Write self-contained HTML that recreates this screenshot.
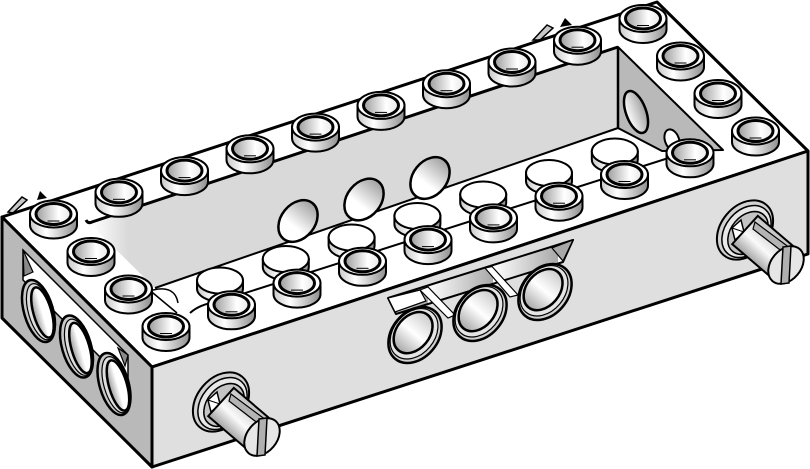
<!DOCTYPE html>
<html>
<head>
<meta charset="utf-8">
<style>
  html, body { margin: 0; padding: 0; background: #fff; }
  svg { display: block; }
</style>
</head>
<body>
<svg width="810" height="469" viewBox="0 0 810 469" xmlns="http://www.w3.org/2000/svg" xmlns:xlink="http://www.w3.org/1999/xlink">
<defs>
  <linearGradient id="side" x1="0" y1="0" x2="1" y2="0">
    <stop offset="0" stop-color="#c8c8c8"/>
    <stop offset=".35" stop-color="#ffffff"/>
    <stop offset="1" stop-color="#8e8e8e"/>
  </linearGradient>
  <linearGradient id="hole" x1="0" y1="0" x2="1" y2="0">
    <stop offset="0" stop-color="#9c9c9c"/>
    <stop offset=".65" stop-color="#ffffff"/>
    <stop offset="1" stop-color="#e8e8e8"/>
  </linearGradient>
  <linearGradient id="wh" x1="0" y1="0" x2="1" y2="0">
    <stop offset="0" stop-color="#ffffff"/>
    <stop offset=".35" stop-color="#ffffff"/>
    <stop offset="1" stop-color="#a0a0a0"/>
  </linearGradient>
  <linearGradient id="fh" x1="0" y1="0" x2="1" y2="0">
    <stop offset="0" stop-color="#a8a8a8"/>
    <stop offset=".5" stop-color="#ffffff"/>
    <stop offset="1" stop-color="#cccccc"/>
  </linearGradient>
  <linearGradient id="lh" x1="0" y1="0" x2="0" y2="1">
    <stop offset="0" stop-color="#ffffff"/>
    <stop offset=".5" stop-color="#ffffff"/>
    <stop offset="1" stop-color="#9a9a9a"/>
  </linearGradient>
  <linearGradient id="dh" x1="0" y1="0" x2="0" y2="1">
    <stop offset="0" stop-color="#a0a0a0"/>
    <stop offset="1" stop-color="#ffffff"/>
  </linearGradient>
  <linearGradient id="wall" gradientUnits="userSpaceOnUse" x1="92" y1="0" x2="128" y2="0">
    <stop offset="0" stop-color="#ffffff"/>
    <stop offset="1" stop-color="#d9d9d9"/>
  </linearGradient>
  <linearGradient id="shaft" gradientUnits="userSpaceOnUse" x1="-13" y1="14" x2="13" y2="-14">
    <stop offset="0" stop-color="#a0a0a0"/>
    <stop offset=".45" stop-color="#fafafa"/>
    <stop offset="1" stop-color="#c4c4c4"/>
  </linearGradient>
  <linearGradient id="band" gradientUnits="userSpaceOnUse" x1="428" y1="0" x2="493" y2="0" spreadMethod="repeat">
    <stop offset="0" stop-color="#ffffff"/>
    <stop offset="1" stop-color="#a8a8a8"/>
  </linearGradient>

  <g id="stud">
    <path d="M-23.5,0 V11 A23.5,13.5 0 0 0 23.5,11 V0 Z" fill="url(#side)" stroke="#000" stroke-width="2"/>
    <ellipse rx="23.5" ry="13.5" fill="#fff" stroke="#000" stroke-width="2"/>
    <ellipse rx="17.5" ry="10.5" fill="url(#hole)" stroke="#000" stroke-width="3"/>
    <path d="M-6,7 H6" stroke="#000" stroke-width="1"/>
  </g>

  <g id="bump">
    <path d="M-23,0 V8 A23,13 0 0 0 23,8 V0 Z" fill="url(#side)" stroke="#000" stroke-width="2"/>
    <ellipse rx="23" ry="13" fill="#fff" stroke="#000" stroke-width="2"/>
  </g>

  <g id="pin">
    <ellipse rx="33" ry="24" transform="rotate(-50)" fill="#d2d2d2" stroke="#000" stroke-width="2"/>
    <ellipse cx="1.5" cy="1.5" rx="29" ry="21" transform="rotate(-50 1.5 1.5)" fill="#e8e8e8" stroke="#000" stroke-width="1.5"/>
    <ellipse cx="3" cy="3" rx="24" ry="17" transform="rotate(-50 3 3)" fill="#c4c4c4" stroke="#000" stroke-width="1.5"/>
    <polygon points="-13,-2 -4,-10 -1,2 -10,10" fill="#fff" stroke="#000" stroke-width="1.5"/>
    <path d="M-13,-2 L-1,2" stroke="#000" stroke-width="1"/>
    <polygon points="12.8,-14.1 53.8,20.9 28.2,49.1 -12.8,14.1" fill="url(#shaft)" stroke="#000" stroke-width="2"/>
    <polygon points="10,-8 45,18 43,26 8,-1" fill="#b4b4b4" stroke="#000" stroke-width="1.2"/>
    <ellipse cx="41" cy="35" rx="21" ry="15" transform="rotate(-50 41 35)" fill="#e6e6e6" stroke="#000" stroke-width="2"/>
    <path d="M38,17 L46,16 L44,53 L36,54 Z" fill="#b0b0b0" stroke="#000" stroke-width="1.5"/>
  </g>
</defs>

<rect width="810" height="469" fill="#fff"/>

<!-- back pin tips -->
<polygon points="8,212 22,197 27,200 13,213" fill="#c8c8c8" stroke="#000" stroke-width="1.5"/>
<polygon points="37,200 40,191 47,198" fill="#000"/>
<polygon points="533,40 547,25 553,28 540,40" fill="#c8c8c8" stroke="#000" stroke-width="1.5"/>
<polygon points="560,27 565,18 572,25" fill="#000"/>

<!-- top face -->
<polygon points="2,217 657,2 808,151 152,367" fill="#fff" stroke="#000" stroke-width="3" stroke-linejoin="round"/>
<!-- left face -->
<polygon points="2,217 152,367 152,467 2,318" fill="#b9b9b9" stroke="#000" stroke-width="3" stroke-linejoin="round"/>
<!-- front face -->
<polygon points="152,367 808,151 808,254 152,467" fill="#dfdfdf" stroke="#000" stroke-width="3" stroke-linejoin="round"/>

<!-- inner channel wall -->
<polygon points="88,222 618,47 618,128 155,288" fill="url(#wall)"/>
<path d="M86,220 Q88,224 92,222 L618,47" fill="none" stroke="#000" stroke-width="3"/>
<path d="M155,288 L618,128" fill="none" stroke="#000" stroke-width="2"/>
<!-- right inner end wall -->
<polygon points="618,47 723,150 662,151 618,128" fill="#b9b9b9" stroke="#000" stroke-width="2" stroke-linejoin="round"/>
<path d="M618,47 L618,128" stroke="#000" stroke-width="2.5"/>

<!-- wall holes -->
<ellipse cx="298" cy="221" rx="23" ry="17" transform="rotate(-51 298 221)" fill="url(#wh)" stroke="#000" stroke-width="2.5"/>
<ellipse cx="364" cy="199.5" rx="23" ry="17" transform="rotate(-51 364 199.5)" fill="url(#wh)" stroke="#000" stroke-width="2.5"/>
<ellipse cx="430" cy="178" rx="23" ry="17" transform="rotate(-51 430 178)" fill="url(#wh)" stroke="#000" stroke-width="2.5"/>
<ellipse cx="636" cy="112" rx="22" ry="10" transform="rotate(70 636 112)" fill="url(#dh)" stroke="#000" stroke-width="2.5"/>
<ellipse cx="672" cy="140" rx="11" ry="7" transform="rotate(70 672 140)" fill="#fff" stroke="#000" stroke-width="2"/>

<!-- lower floor lines -->
<path d="M147,288 L177,313" stroke="#000" stroke-width="1.5"/>
<path d="M153,290 Q175,285 178,303" fill="none" stroke="#000" stroke-width="1.5"/>
<path d="M190,313 Q200,304 217,302 L700,148" fill="none" stroke="#000" stroke-width="2"/>

<!-- bumps -->
<use xlink:href="#bump" href="#bump" transform="translate(220,280.5)"/>
<use xlink:href="#bump" href="#bump" transform="translate(285.8,259)"/>
<use xlink:href="#bump" href="#bump" transform="translate(351.6,237.5)"/>
<use xlink:href="#bump" href="#bump" transform="translate(417.4,216)"/>
<use xlink:href="#bump" href="#bump" transform="translate(483.2,194.5)"/>
<use xlink:href="#bump" href="#bump" transform="translate(549,173)"/>
<use xlink:href="#bump" href="#bump" transform="translate(614.8,151.5)"/>

<!-- left face slot band -->
<polygon points="23,250 128,355 128,385 23,280" fill="#fff" stroke="#000" stroke-width="1.5"/>
<polygon points="23,250 33,272 24,276" fill="#8a8a8a" stroke="#000" stroke-width="1.2"/>
<polygon points="118,348 128,355 125,366" fill="#8a8a8a" stroke="#000" stroke-width="1.2"/>
<!-- left face holes -->
<g transform="translate(38.5,311) rotate(74)">
  <ellipse rx="32" ry="14.5" fill="#c8c8c8" stroke="#000" stroke-width="2.5"/>
  <ellipse cx="1.2" cy="-1.7" rx="29" ry="12" fill="#dedede" stroke="#000" stroke-width="1.2"/>
  <ellipse cx="2.5" cy="-3.4" rx="26" ry="9" fill="url(#lh)" stroke="#000" stroke-width="2.5"/>
</g>
<g transform="translate(76.5,346.5) rotate(74)">
  <ellipse rx="32" ry="14.5" fill="#c8c8c8" stroke="#000" stroke-width="2.5"/>
  <ellipse cx="1.2" cy="-1.7" rx="29" ry="12" fill="#dedede" stroke="#000" stroke-width="1.2"/>
  <ellipse cx="2.5" cy="-3.4" rx="26" ry="9" fill="url(#lh)" stroke="#000" stroke-width="2.5"/>
</g>
<g transform="translate(114,384) rotate(74)">
  <ellipse rx="32" ry="14.5" fill="#c8c8c8" stroke="#000" stroke-width="2.5"/>
  <ellipse cx="1.2" cy="-1.7" rx="29" ry="12" fill="#dedede" stroke="#000" stroke-width="1.2"/>
  <ellipse cx="2.5" cy="-3.4" rx="26" ry="9" fill="url(#lh)" stroke="#000" stroke-width="2.5"/>
</g>

<!-- front face slot band -->
<polygon points="388,298 573,240 563,262 396,314" fill="url(#band)" stroke="#000" stroke-width="2" stroke-linejoin="round"/>
<polygon points="388,298 420,290 426,301 395,312" fill="#fff" stroke="#000" stroke-width="1.2"/>
<polygon points="420,290 428,287 455,315 448,318" fill="#fff" stroke="#000" stroke-width="1.2"/>
<polygon points="485,268 492,266.5 518,295 510,297" fill="#fff" stroke="#000" stroke-width="1.2"/>
<polygon points="552,248 573,240 563,261" fill="#a8a8a8" stroke="#000" stroke-width="1.2"/>
<!-- front face holes -->
<g transform="translate(415,335) rotate(-50)">
  <ellipse rx="31" ry="23" fill="#d0d0d0" stroke="#000" stroke-width="2.5"/>
  <ellipse cx="0.3" cy="-1.5" rx="28" ry="20.5" fill="#e4e4e4" stroke="#000" stroke-width="1.2"/>
  <ellipse cx="0.6" cy="-3" rx="23" ry="16.5" fill="url(#fh)" stroke="#000" stroke-width="2.5"/>
</g>
<g transform="translate(480,313) rotate(-50)">
  <ellipse rx="31" ry="23" fill="#d0d0d0" stroke="#000" stroke-width="2.5"/>
  <ellipse cx="0.3" cy="-1.5" rx="28" ry="20.5" fill="#e4e4e4" stroke="#000" stroke-width="1.2"/>
  <ellipse cx="0.6" cy="-3" rx="23" ry="16.5" fill="url(#fh)" stroke="#000" stroke-width="2.5"/>
</g>
<g transform="translate(545,292) rotate(-50)">
  <ellipse rx="31" ry="23" fill="#d0d0d0" stroke="#000" stroke-width="2.5"/>
  <ellipse cx="0.3" cy="-1.5" rx="28" ry="20.5" fill="#e4e4e4" stroke="#000" stroke-width="1.2"/>
  <ellipse cx="0.6" cy="-3" rx="23" ry="16.5" fill="url(#fh)" stroke="#000" stroke-width="2.5"/>
</g>

<!-- pins -->
<use xlink:href="#pin" href="#pin" transform="translate(221,402)"/>
<use xlink:href="#pin" href="#pin" transform="translate(745,230)"/>

<!-- studs: back row -->
<use xlink:href="#stud" href="#stud" transform="translate(643,18.5)"/>
<use xlink:href="#stud" href="#stud" transform="translate(577.5,40.2)"/>
<use xlink:href="#stud" href="#stud" transform="translate(512,62)"/>
<use xlink:href="#stud" href="#stud" transform="translate(446.5,83.7)"/>
<use xlink:href="#stud" href="#stud" transform="translate(381,105.4)"/>
<use xlink:href="#stud" href="#stud" transform="translate(315.5,127.1)"/>
<use xlink:href="#stud" href="#stud" transform="translate(250,148.8)"/>
<use xlink:href="#stud" href="#stud" transform="translate(184.5,170.6)"/>
<use xlink:href="#stud" href="#stud" transform="translate(119,192.3)"/>
<use xlink:href="#stud" href="#stud" transform="translate(53.5,214)"/>
<!-- right column -->
<use xlink:href="#stud" href="#stud" transform="translate(680.5,56)"/>
<use xlink:href="#stud" href="#stud" transform="translate(718,93.5)"/>
<use xlink:href="#stud" href="#stud" transform="translate(755.5,131)"/>
<!-- front row -->
<use xlink:href="#stud" href="#stud" transform="translate(690,152.8)"/>
<use xlink:href="#stud" href="#stud" transform="translate(624.5,174.5)"/>
<use xlink:href="#stud" href="#stud" transform="translate(559,196.2)"/>
<use xlink:href="#stud" href="#stud" transform="translate(493.5,217.9)"/>
<use xlink:href="#stud" href="#stud" transform="translate(428,239.6)"/>
<use xlink:href="#stud" href="#stud" transform="translate(362.5,261.3)"/>
<use xlink:href="#stud" href="#stud" transform="translate(297,283.1)"/>
<use xlink:href="#stud" href="#stud" transform="translate(231.5,304.8)"/>
<!-- left column -->
<use xlink:href="#stud" href="#stud" transform="translate(91,251.5)"/>
<use xlink:href="#stud" href="#stud" transform="translate(128.5,289)"/>
<use xlink:href="#stud" href="#stud" transform="translate(166,326.5)"/>
</svg>
</body>
</html>
